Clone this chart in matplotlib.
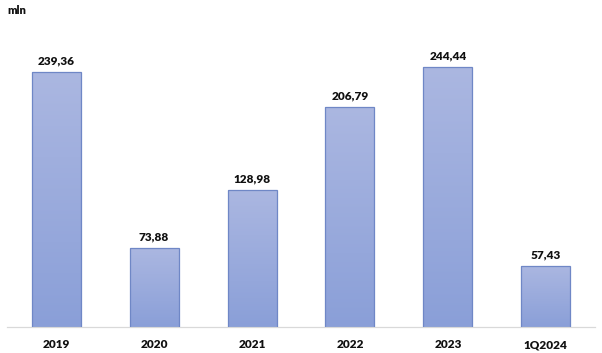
import numpy as np
import matplotlib
matplotlib.use("Agg")
import matplotlib.pyplot as plt
from matplotlib.colors import LinearSegmentedColormap

categorias = ["2019", "2020", "2021", "2022", "2023", "1Q2024"]
valores = [239.36, 73.88, 128.98, 206.79, 244.44, 57.43]
etiquetas = ["239,36", "73,88", "128,98", "206,79", "244,44", "57,43"]

plt.rcParams["font.family"] = ["Lato", "DejaVu Sans"]

fig = plt.figure(figsize=(6.02, 3.53), dpi=100)
ax = fig.add_axes([0.012, 0.0737, 0.976, 0.845])

x = np.arange(len(categorias))
barras = ax.bar(x, valores, width=0.5, color="none", edgecolor="#6f87c6", linewidth=0.9, zorder=3)

# degradado vertical dentro de cada barra
cmap = LinearSegmentedColormap.from_list("grad", ["#8a9fd8", "#abb7e1"])
grad = np.linspace(0, 1, 256).reshape(-1, 1)
for b in barras:
    x0, w, h = b.get_x(), b.get_width(), b.get_height()
    im = ax.imshow(grad, cmap=cmap, aspect="auto", origin="lower",
                   extent=[x0, x0 + w, 0, h], zorder=2)
    im.set_clip_path(b)

for xi, v, t in zip(x, valores, etiquetas):
    ax.annotate(t, (xi, v), xytext=(0, 4), textcoords="offset points",
                ha="center", va="bottom", fontsize=8.5, fontweight="heavy", color="#111111")

ax.set_xlim(-0.5, len(categorias) - 0.5)
ax.set_ylim(0, 280)
ax.set_xticks(x)
ax.set_xticklabels(categorias, fontsize=8.5, fontweight="heavy", color="#111111")
ax.tick_params(axis="x", length=0, pad=9)
ax.set_yticks([])
for s in ["top", "right", "left"]:
    ax.spines[s].set_visible(False)
ax.spines["bottom"].set_color("#d9d9d9")
ax.spines["bottom"].set_linewidth(0.9)

fig.text(0.013, 0.97, "mln", fontsize=8, fontweight="heavy", color="#111111", va="center")

fig.savefig("out.png", dpi=100)
